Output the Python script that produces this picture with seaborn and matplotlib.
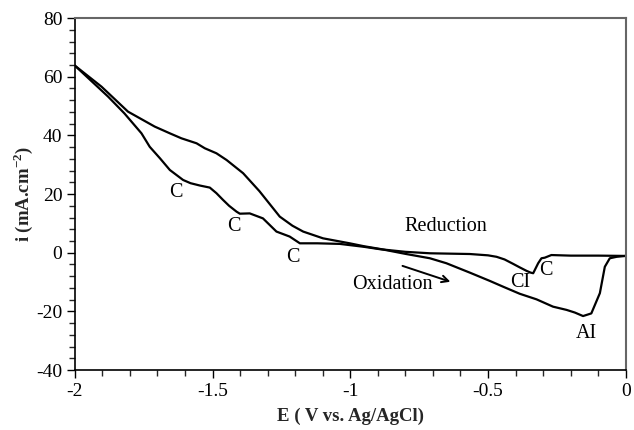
import matplotlib
matplotlib.use("Agg")
import matplotlib.pyplot as plt
from matplotlib.ticker import MultipleLocator, FuncFormatter
import seaborn as sns
import pandas as pd

# Reduction sweep (0 V -> -2 V)
red_E = [0.0, -0.1, -0.2, -0.270, -0.294, -0.306, -0.318, -0.336, -0.345,
         -0.36, -0.385, -0.409, -0.44, -0.469, -0.50, -0.566, -0.711, -0.80, -0.893, -0.95, -1.038,
         -1.12, -1.183, -1.220, -1.268, -1.317, -1.365, -1.401, -1.413, -1.440, -1.462,
         -1.486, -1.510, -1.546, -1.580, -1.607, -1.655, -1.691, -1.728, -1.758, -1.820, -1.879, -2.0]
red_i = [-1.1, -1.0, -1.0, -0.8, -1.7, -1.9, -3.6, -7.0, -6.8,
         -6.2, -5.0, -3.8, -2.3, -1.4, -0.9, -0.45, -0.2, 0.3, 1.2, 2.0, 3.0,
         3.2, 3.2, 5.5, 7.2, 11.7, 13.4, 13.3, 14.0, 16.0, 18.0,
         20.3, 22.2, 22.9, 23.7, 24.8, 28.2, 32.2, 36.1, 40.7, 47.5, 53.2, 63.8]

# Oxidation sweep (-2 V -> 0 V)
ox_E = [-2.0, -1.903, -1.807, -1.710, -1.655, -1.613, -1.558, -1.528, -1.486, -1.449,
        -1.389, -1.330, -1.256, -1.210, -1.171, -1.099, -1.002, -0.95, -0.893, -0.80,
        -0.711, -0.651, -0.566, -0.494, -0.445, -0.385, -0.324, -0.264, -0.215, -0.185,
        -0.155, -0.125, -0.094, -0.076, -0.058, -0.033, 0.0]
ox_i = [63.8, 56.6, 48.1, 43.0, 40.7, 39.0, 37.3, 35.6, 33.9, 31.6,
        27.1, 21.0, 12.3, 9.2, 7.2, 4.9, 3.2, 2.2, 1.3, -0.4,
        -1.9, -3.6, -6.8, -9.6, -11.6, -14.0, -15.9, -18.4, -19.5, -20.4,
        -21.6, -20.7, -13.8, -4.8, -1.9, -1.4, -1.1]

labels = ["C", "C", "C", "Reduction", "Oxidation", "CI", "C", "AI"]
label_E = [-1.633, -1.423, -1.209, -0.653, -0.846, -0.385, -0.29, -0.142]
label_i = [20.4, 9.1, -1.8, 9.1, -10.8, -10.3, -5.9, -27.4]

sns.set_theme(style="white")
plt.rcParams['font.family'] = ['Liberation Serif', 'DejaVu Serif']
plt.rcParams['axes.unicode_minus'] = False
plt.rcParams['mathtext.fontset'] = 'custom'
plt.rcParams['mathtext.rm'] = 'Liberation Serif'
plt.rcParams['mathtext.bf'] = 'Liberation Serif:bold'

fig = plt.figure(figsize=(6.34, 4.30), dpi=100)
ax = fig.add_axes([0.118, 0.1395, 0.869, 0.8185])

red = pd.DataFrame({"E": red_E, "i": red_i})
ox = pd.DataFrame({"E": ox_E, "i": ox_i})
sns.lineplot(data=red, x="E", y="i", sort=False, color="black", lw=1.6, ax=ax)
sns.lineplot(data=ox, x="E", y="i", sort=False, color="black", lw=1.6, ax=ax)

for t, e, v in zip(labels, label_E, label_i):
    ax.text(e, v, t, ha="center", va="center", fontsize=14.5, color="black")

ax.annotate("", xy=(-0.627, -10.2), xytext=(-0.820, -4.2),
            arrowprops=dict(arrowstyle="->", color="black", lw=1.4))

ax.set_xlim(-2, 0)
ax.set_ylim(-40, 80)
ax.xaxis.set_major_locator(MultipleLocator(0.5))
ax.xaxis.set_minor_locator(MultipleLocator(0.1))
ax.yaxis.set_major_locator(MultipleLocator(20))
ax.yaxis.set_minor_locator(MultipleLocator(4))
ax.xaxis.set_major_formatter(FuncFormatter(lambda v, p: "0" if abs(v) < 1e-9 else "%g" % v))
ax.tick_params(axis="both", which="major", direction="out", length=6, width=1,
               labelsize=14, colors="black", bottom=True, left=True, pad=3)
ax.tick_params(axis="both", which="minor", direction="out", length=4, width=1,
               bottom=True, left=True)

for s in ["left", "bottom"]:
    ax.spines[s].set_color("black")
    ax.spines[s].set_linewidth(1.2)
for s in ["top", "right"]:
    ax.spines[s].set_color("#666666")
    ax.spines[s].set_linewidth(1.5)

ax.set_xlabel("E ( V vs. Ag/AgCl)", fontsize=13.5, fontweight="bold", labelpad=6)
ax.set_ylabel(r"i (mA.cm$^{\mathbf{-2}}$)", fontsize=13.5, fontweight="bold", labelpad=1)

fig.savefig("out.png", dpi=100)
